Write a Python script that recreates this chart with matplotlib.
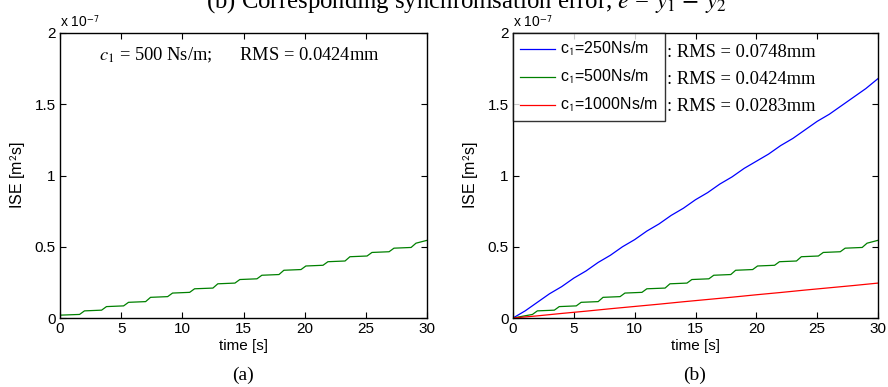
import matplotlib.pyplot as plt
import numpy as np

plt.rcParams["font.family"] = ["Liberation Sans", "DejaVu Sans"]
plt.rcParams["mathtext.fontset"] = "stix"

# ISE values in units of 1e-7 m^2 s (corner points of the stair-like curves)
green_t = [0, 1.6, 2.0, 3.4, 3.8, 5.2, 5.6, 7.0, 7.4, 8.8, 9.2, 10.6, 11.0, 12.5, 12.9, 14.3, 14.7,
           16.1, 16.5, 17.9, 18.3, 19.7, 20.1, 21.5, 21.9, 23.3, 23.7, 25.1, 25.5, 26.9, 27.3, 28.7, 29.1, 30]
green_y = [0.02, 0.025, 0.05, 0.055, 0.08, 0.085, 0.11, 0.115, 0.145, 0.15, 0.175, 0.18, 0.205, 0.21,
           0.24, 0.245, 0.27, 0.275, 0.30, 0.305, 0.335, 0.34, 0.365, 0.37, 0.395, 0.40, 0.43, 0.435,
           0.46, 0.465, 0.49, 0.495, 0.525, 0.545]

blue_t = list(range(0, 31))
blue_y = [0.0, 0.05, 0.11, 0.17, 0.22, 0.28, 0.33, 0.39, 0.44, 0.50, 0.55, 0.61, 0.66, 0.72, 0.77, 0.83,
          0.88, 0.94, 0.99, 1.05, 1.10, 1.15, 1.21, 1.26, 1.32, 1.38, 1.43, 1.49, 1.55, 1.61, 1.68]

red_t = [0, 2, 4, 6, 8, 10, 12, 14, 16, 18, 20, 22, 24, 26, 28, 30]
red_y = [0.0, 0.015, 0.032, 0.048, 0.065, 0.081, 0.097, 0.114, 0.13, 0.146, 0.163, 0.179, 0.196,
         0.212, 0.228, 0.245]

rms_labels = [": RMS = 0.0748mm", ": RMS = 0.0424mm", ": RMS = 0.0283mm"]
legend_labels = [r"c$_\mathsf{1}$=250Ns/m", r"c$_\mathsf{1}$=500Ns/m", r"c$_\mathsf{1}$=1000Ns/m"]

fig = plt.figure(figsize=(8.88, 3.87), dpi=100)
ax_a = fig.add_axes([60 / 888, 1 - 318 / 387, 367 / 888, 285 / 387])
ax_b = fig.add_axes([513 / 888, 1 - 318 / 387, 365 / 888, 285 / 387])


def style(ax):
    ax.set_xlim(0, 30)
    ax.set_ylim(0, 2)
    ax.set_xticks(np.arange(0, 31, 5))
    ax.set_yticks([0, 0.5, 1, 1.5, 2])
    ax.set_yticklabels(["0", "0.5", "1", "1.5", "2"])
    ax.tick_params(direction="in", top=True, right=True, length=4, labelsize=11, pad=3)
    for sp in ax.spines.values():
        sp.set_linewidth(1.0)
    ax.set_xlabel("time [s]", fontsize=11, labelpad=2)
    ax.set_ylabel("ISE [m$^\\mathsf{2}$s]", fontsize=11.5, labelpad=5)
    ax.text(0.0, 1.01, r"x 10$^\mathsf{-7}$", transform=ax.transAxes, fontsize=10, va="bottom")


ax_a.plot(green_t, green_y, color="#008000", lw=0.9)
style(ax_a)
ax_a.text(0.105, 0.923, r"$c_1$ = 500 Ns/m;      RMS = 0.0424mm", transform=ax_a.transAxes,
          family="Liberation Serif", fontsize=13.3, va="center")

lb, = ax_b.plot(blue_t, blue_y, color="#0000ff", lw=0.9)
lg, = ax_b.plot(green_t, [0.0] + green_y[1:], color="#008000", lw=0.9)
lr, = ax_b.plot(red_t, red_y, color="#ff0000", lw=0.9)
style(ax_b)
leg = ax_b.legend([lb, lg, lr], legend_labels, loc="upper left", bbox_to_anchor=(0, 1),
                  fontsize=11.5, frameon=True, fancybox=False, borderaxespad=0, handlelength=2.2,
                  handletextpad=0.3, labelspacing=0.62, borderpad=0.45)
leg.get_frame().set_edgecolor("black")
leg.get_frame().set_linewidth(1.0)
for i, (s, yy) in enumerate(zip(rms_labels, [0.93, 0.836, 0.742])):
    ax_b.text(0.422, yy, s, transform=ax_b.transAxes, family="Liberation Serif",
              fontsize=13.3, va="center")

fig.text(243 / 888, 1 - 375 / 387, "(a)", family="Liberation Serif", fontsize=14, ha="center", va="center")
fig.text(695 / 888, 1 - 375 / 387, "(b)", family="Liberation Serif", fontsize=14, ha="center", va="center")
fig.text(466 / 888, 1 - 7.7 / 387, r"(b) Corresponding synchronisation error, $e$ = $y_1$ $-$ $y_2$",
         family="Liberation Serif", fontsize=17.8, ha="center", va="baseline")

fig.savefig("out.png", dpi=100)
